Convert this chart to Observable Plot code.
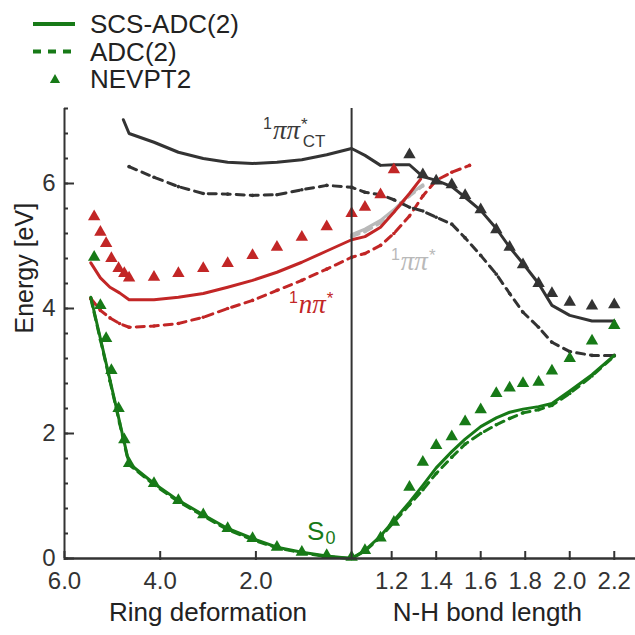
<!DOCTYPE html>
<html><head><meta charset="utf-8">
<script src="https://cdn.jsdelivr.net/npm/d3@7"></script>
<script src="https://cdn.jsdelivr.net/npm/@observablehq/plot@0.6"></script>
<style>
html,body{margin:0;padding:0;background:#fff;}
#wrap{position:relative;width:635px;height:635px;font-family:"Liberation Sans",sans-serif;}
#legend{position:absolute;left:0;top:0;}
</style></head>
<body><div id="wrap"></div>
<script>
// ---------- data ----------
// left part: ring deformation coordinate; right part: N-H bond length
const ringLineX   = [5.45, 5.25, 5.05, 4.85, 4.65, 4.13, 3.62, 3.10, 2.59, 2.07, 1.56, 1.04, 0.52, 0];
const ringTriX    = [5.38, 5.25, 5.13, 5.02, 4.87, 4.75, 4.65, 4.13, 3.62, 3.10, 2.59, 2.07, 1.56, 1.04, 0.52, 0];
const ctRingX     = [4.77, 4.65, 4.13, 3.62, 3.10, 2.59, 2.07, 1.56, 1.04, 0.52, 0];
const ctRingDashX = [4.65, 4.13, 3.62, 3.10, 2.59, 2.07, 1.56, 1.04, 0.52, 0];
const nhX         = [1.02, 1.08, 1.15, 1.21, 1.28, 1.34, 1.40, 1.47, 1.53, 1.60, 1.67, 1.73, 1.79, 1.86, 1.92, 2.00, 2.10, 2.20];
const nhTriX      = [1.08, 1.15, 1.21, 1.28, 1.34, 1.40, 1.47, 1.53, 1.60, 1.67, 1.73, 1.79, 1.86, 1.92, 2.00, 2.10, 2.20];
const nhRedSolidX = [1.02, 1.08, 1.15, 1.21, 1.28, 1.33];
const nhRedDashX  = [1.02, 1.08, 1.15, 1.21, 1.28, 1.34, 1.40, 1.47, 1.55];
const nhRedTriX   = [1.08, 1.15, 1.21];
const nhGrayX     = [1.02, 1.08, 1.15, 1.21, 1.28, 1.34];
const nhCtTriX    = [1.28, 1.34, 1.40, 1.47, 1.53, 1.60, 1.67, 1.73, 1.79, 1.86, 1.92, 2.00, 2.10, 2.20];

// S0
const s0ScsRing = [4.18, 3.52, 2.86, 2.19, 1.52, 1.20, 0.93, 0.70, 0.48, 0.32, 0.18, 0.10, 0.04, 0.00];
const s0AdcRing = [4.16, 3.50, 2.84, 2.17, 1.50, 1.18, 0.91, 0.68, 0.46, 0.30, 0.17, 0.09, 0.03, 0.00];
const s0NevRing = [4.82, 4.05, 3.52, 3.01, 2.40, 1.90, 1.52, 1.20, 0.93, 0.70, 0.48, 0.32, 0.18, 0.10, 0.05, 0.02];
const s0ScsNH   = [0.00, 0.13, 0.36, 0.61, 0.90, 1.17, 1.45, 1.71, 1.91, 2.11, 2.25, 2.34, 2.39, 2.43, 2.48, 2.68, 2.94, 3.25];
const s0AdcNH   = [0.00, 0.12, 0.34, 0.58, 0.86, 1.10, 1.36, 1.62, 1.83, 2.00, 2.14, 2.24, 2.33, 2.38, 2.45, 2.64, 2.92, 3.24];
const s0NevNH   = [0.13, 0.33, 0.58, 1.14, 1.54, 1.81, 1.95, 2.19, 2.38, 2.64, 2.73, 2.80, 2.82, 3.00, 3.20, 3.48, 3.73];
// 1 n pi*
const npScsRing = [4.73, 4.49, 4.34, 4.25, 4.14, 4.14, 4.18, 4.24, 4.34, 4.45, 4.58, 4.74, 4.92, 5.10];
const npAdcRing = [4.16, 3.97, 3.85, 3.76, 3.70, 3.72, 3.76, 3.86, 4.00, 4.13, 4.29, 4.45, 4.63, 4.82];
const npNevRing = [5.47, 5.22, 5.04, 4.80, 4.64, 4.56, 4.49, 4.50, 4.56, 4.64, 4.72, 4.85, 4.98, 5.14, 5.31, 5.52];
const npScsNH   = [5.10, 5.15, 5.30, 5.54, 5.84, 6.07];
const npAdcNH   = [4.82, 4.88, 5.01, 5.20, 5.48, 5.80, 6.05, 6.18, 6.29];
const npNevNH   = [5.62, 5.82, 6.22];
// 1 pi pi* CT
const ctScsRing = [7.02, 6.80, 6.66, 6.50, 6.40, 6.34, 6.32, 6.34, 6.38, 6.46, 6.56];
const ctAdcRing = [6.27, 6.10, 5.95, 5.84, 5.83, 5.81, 5.82, 5.90, 5.97, 5.94];
const ctScsNH   = [6.56, 6.45, 6.29, 6.30, 6.30, 6.11, 6.05, 5.95, 5.78, 5.57, 5.28, 4.98, 4.72, 4.40, 4.05, 3.89, 3.80, 3.80];
const ctAdcNH   = [5.94, 5.86, 5.82, 5.74, 5.62, 5.56, 5.46, 5.35, 5.13, 4.85, 4.55, 4.24, 3.94, 3.70, 3.46, 3.31, 3.25, 3.25];
const ctNevNH   = [6.46, 6.14, 6.04, 5.98, 5.81, 5.58, 5.26, 4.98, 4.70, 4.40, 4.24, 4.10, 4.04, 4.06];
// 1 pi pi*
const ppScsNH   = [5.18, 5.27, 5.41, 5.58, 5.82, 5.98];
const ppAdcNH   = [5.15, 5.23, 5.37, 5.55, 5.80, 5.96];

// tick labels
const ringTicks = [6.0, 4.0, 2.0];
const nhTicks = [1.2, 1.4, 1.6, 1.8, 2.0, 2.2];
const energyTicks = [0, 2, 4, 6];

// ---------- combined coordinate ----------
const NH0 = 1.02, NHK = 4.652;             // join of the two halves
const uRing = r => -r;
const uNH = n => (n - NH0) * NHK;
const PXU = 47.85, PXE = 62.5;             // px per unit (for tick lengths)

const C = {green: "#177a17", red: "#c22626", dark: "#333333", gray: "#b9b9b9"};

function part(xs, ys, conv, state, method) {
  return xs.map((x, i) => ({u: conv(x), E: ys[i], state, method}));
}
const lines = [
  ...part(nhGrayX, ppAdcNH, uNH, "pp", "adc"),
  ...part(nhGrayX, ppScsNH, uNH, "pp", "scs"),
  ...part(ringLineX, s0AdcRing, uRing, "s0", "adc"), ...part(nhX, s0AdcNH, uNH, "s0", "adc"),
  ...part(ringLineX, npAdcRing, uRing, "np", "adc"), ...part(nhRedDashX, npAdcNH, uNH, "np", "adc"),
  ...part(ctRingDashX, ctAdcRing, uRing, "ct", "adc"), ...part(nhX, ctAdcNH, uNH, "ct", "adc"),
  ...part(ringLineX, s0ScsRing, uRing, "s0", "scs"), ...part(nhX, s0ScsNH, uNH, "s0", "scs"),
  ...part(ringLineX, npScsRing, uRing, "np", "scs"), ...part(nhRedSolidX, npScsNH, uNH, "np", "scs"),
  ...part(ctRingX, ctScsRing, uRing, "ct", "scs"), ...part(nhX, ctScsNH, uNH, "ct", "scs")
];
const tris = [
  ...part(ringTriX, s0NevRing, uRing, "s0", "nev"), ...part(nhTriX, s0NevNH, uNH, "s0", "nev"),
  ...part(ringTriX, npNevRing, uRing, "np", "nev"), ...part(nhRedTriX, npNevNH, uNH, "np", "nev"),
  ...part(nhCtTriX, ctNevNH, uNH, "ct", "nev")
];
const colorOf = d => ({s0: C.green, np: C.red, ct: C.dark, pp: C.gray})[d.state];
const dashed = lines.filter(d => d.method === "adc");
const solid = lines.filter(d => d.method === "scs");
const key = d => d.state + d.method;

// tick geometry (derived from tick values)
const yMinor = d3.range(0, 7.21, 0.4).map(v => +v.toFixed(1));
const yTickRows = [
  ...yMinor.map(v => ({E: v, a: -6, b: -6 + 4 / PXU})),
  ...energyTicks.map(v => ({E: v, a: -6, b: -6 + 10 / PXU}))
];
const ringTickU = ringTicks.map(uRing);
const nhTickU = nhTicks.map(uNH);
const xTickRows = [...ringTickU, ...nhTickU].map(u => ({u, a: -2 / PXE, b: 7 / PXE}));
const frameRows = [{u: -6, a: 0, b: 7.2}, {u: 0, a: 0, b: 7.2}];

const plot = Plot.plot({
  width: 635, height: 635,
  marginLeft: 64, marginRight: 0, marginTop: 108, marginBottom: 77,
  x: {domain: [-6, 571 / PXU - 6], axis: null},
  y: {domain: [0, 7.2], axis: null},
  style: {fontFamily: "Liberation Sans, sans-serif", fontSize: "24px", color: "#333", background: "transparent"},
  marks: [
    // data lines
    Plot.line(dashed, {x: "u", y: "E", z: key, stroke: colorOf, strokeWidth: 3, strokeDasharray: "8,6", curve: "linear"}),
    Plot.dot(dashed, {x: "u", y: "E", fill: colorOf, r: 1.8}),
    Plot.line(solid, {x: "u", y: "E", z: key, stroke: colorOf, strokeWidth: 3, strokeLinejoin: "round", curve: "linear"}),
    Plot.dot(tris, {x: "u", y: "E", fill: colorOf, symbol: "triangle", r: 4.6}),
    // y axis
    Plot.axisY({ticks: energyTicks, tickSize: 0, tickPadding: 9, tickFormat: d => String(d), label: null, fill: "#333", fontSize: 24}),
    Plot.text(["Energy [eV]"], {frameAnchor: "left", rotate: -90, dx: -40, fill: "#222", fontSize: 25}),
    // x axis
    Plot.axisX({ticks: ringTickU, tickSize: 0, tickPadding: 13, tickFormat: d => (-d).toFixed(1), label: null, fill: "#333", fontSize: 24}),
    Plot.axisX({ticks: nhTickU, tickSize: 0, tickPadding: 13, tickFormat: d => (d / NHK + NH0).toFixed(1), label: null, fill: "#333", fontSize: 24}),
    Plot.text(["Ring deformation"], {x: uRing(3.0), frameAnchor: "bottom", dy: 62, fill: "#222", fontSize: 26}),
    Plot.text(["N-H bond length"], {x: uNH(1.63), frameAnchor: "bottom", dy: 62, fill: "#222", fontSize: 26}),
    // frame
    Plot.ruleX(frameRows, {x: "u", y1: "a", y2: "b", stroke: "#333", strokeWidth: 2}),
    Plot.ruleY([0], {stroke: "#333", strokeWidth: 2.5}),
    // inward ticks
    Plot.ruleY(yTickRows, {y: "E", x1: "a", x2: "b", stroke: "#333", strokeWidth: 2}),
    Plot.ruleX(xTickRows, {x: "u", y1: "a", y2: "b", stroke: "#333", strokeWidth: 2})
  ]
});
document.getElementById("wrap").appendChild(plot);

// ---------- state labels (rich text) ----------
const sx = plot.scale("x"), sy = plot.scale("y");
const svg = d3.select(plot);
const labelDefs = [
  {u: uRing(1.84), E: 6.70, color: "#3a3a3a", parts: [["1", "sup"], ["ππ", "it"], ["*", "sup2"], ["CT", "sub"]]},
  {u: uRing(1.30), E: 3.92, color: C.red, parts: [["1", "sup"], ["nπ", "it"], ["*", "sup2"]]},
  {u: uNH(1.199), E: 4.61, color: C.gray, parts: [["1", "sup"], ["ππ", "it"], ["*", "sup2"]]},
  {u: uRing(0.92), E: 0.29, color: C.green, parts: [["S", "base"], ["0", "sub0"]]}
];
for (const L of labelDefs) {
  const t = svg.append("text")
    .attr("x", sx.apply(L.u)).attr("y", sy.apply(L.E))
    .attr("text-anchor", "start")
    .attr("fill", L.color).attr("font-family", "Liberation Sans, sans-serif").attr("font-size", 26);
  let level = 0;
  for (const [txt, kind] of L.parts) {
    const s = t.append("tspan").text(txt);
    let target = 0;
    if (kind === "sup") { s.attr("font-size", 16); target = -10; }
    else if (kind === "sup2") { s.attr("font-size", 17); target = -9; s.attr("dx", 1); }
    else if (kind === "sub") { s.attr("font-size", 17); target = 8; s.attr("dx", -5); }
    else if (kind === "sub0") { s.attr("font-size", 18); target = 4; s.attr("dx", 1); }
    else if (kind === "it") { s.attr("font-family", "Liberation Serif, serif").attr("font-style", "italic").attr("font-size", 27).attr("dx", 1); }
    s.attr("dy", target - level);
    level = target;
  }
}

// ---------- legend ----------
const legendItems = [
  {label: "SCS-ADC(2)", kind: "solid"},
  {label: "ADC(2)", kind: "dashed"},
  {label: "NEVPT2", kind: "tri"}
];
const lg = d3.select("#wrap").append("svg").attr("id", "legend").attr("width", 300).attr("height", 100);
legendItems.forEach((it, i) => {
  const cy = 24 + i * 27.5;
  if (it.kind === "solid") lg.append("line").attr("x1", 33).attr("x2", 75).attr("y1", cy).attr("y2", cy).attr("stroke", C.green).attr("stroke-width", 4);
  if (it.kind === "dashed") lg.append("line").attr("x1", 33).attr("x2", 75).attr("y1", cy).attr("y2", cy).attr("stroke", C.green).attr("stroke-width", 4).attr("stroke-dasharray", "8,7");
  if (it.kind === "tri") lg.append("path").attr("d", d3.symbol(d3.symbolTriangle, 45)()).attr("transform", `translate(55,${cy + 1})`).attr("fill", C.green);
  lg.append("text").attr("x", 90).attr("y", cy).attr("dy", "0.35em").attr("fill", "#222")
    .attr("font-family", "Liberation Sans, sans-serif").attr("font-size", 26).text(it.label);
});
</script>
</body></html>
